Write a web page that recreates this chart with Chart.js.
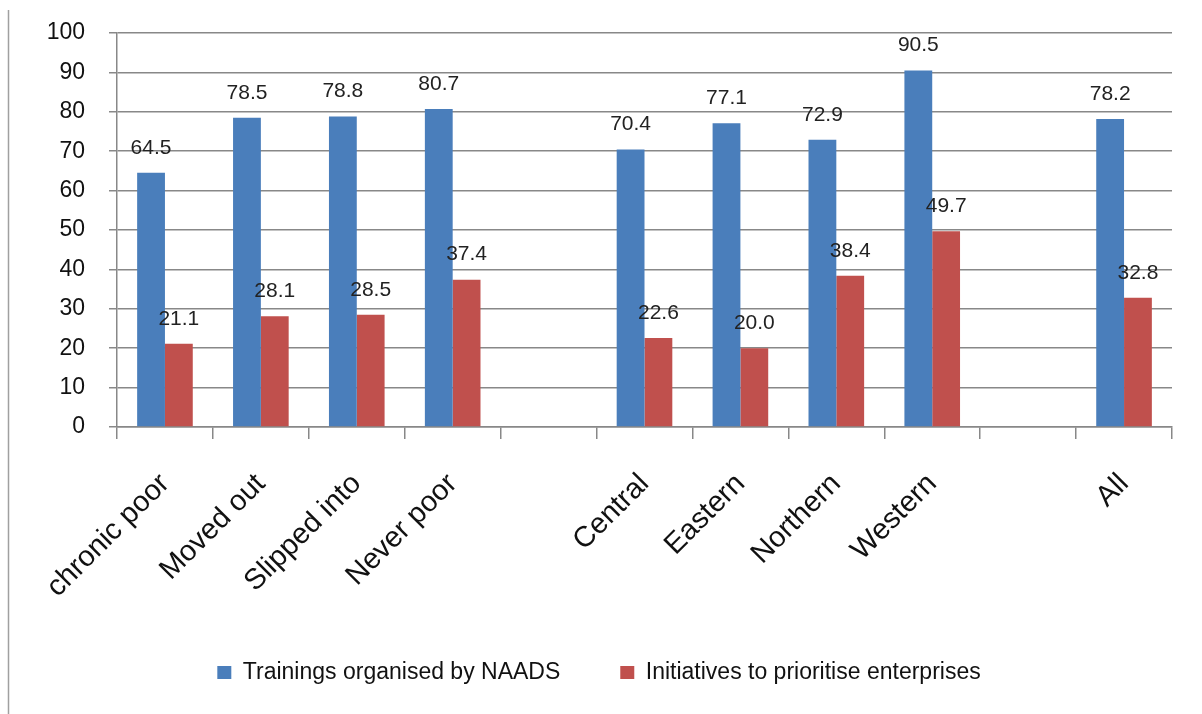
<!DOCTYPE html>
<html>
<head>
<meta charset="utf-8">
<script src="https://cdn.jsdelivr.net/npm/chart.js@4.4.1/dist/chart.umd.min.js"></script>
<style>
  html, body { margin: 0; padding: 0; background: #fff; }
  #wrap { width: 1202px; height: 714px; position: relative; }
</style>
</head>
<body>
<div id="wrap"><canvas id="myChart" width="1202" height="714"></canvas></div>
<script>
// categories (blank ones are the gaps between groups)
const categories = ['chronic poor', 'Moved out', 'Slipped into', 'Never poor', '',
                    'Central', 'Eastern', 'Northern', 'Western', '', 'All'];

const trainings  = [64.5, 78.5, 78.8, 80.7, null, 70.4, 77.1, 72.9, 90.5, null, 78.2];
const initiatives = [21.1, 28.1, 28.5, 37.4, null, 22.6, 20.0, 38.4, 49.7, null, 32.8];

const seriesNames = ['Trainings organised by NAADS', 'Initiatives to prioritise enterprises'];
const yTicks = [0, 10, 20, 30, 40, 50, 60, 70, 80, 90, 100];

const FONT = "'Liberation Sans', Arial, sans-serif";

// value labels above each bar
const valueLabels = {
  id: 'valueLabels',
  afterDatasetsDraw(chart) {
    const ctx = chart.ctx;
    ctx.save();
    ctx.font = '21px ' + FONT;
    ctx.fillStyle = '#222';
    ctx.textAlign = 'center';
    ctx.textBaseline = 'middle';
    chart.data.datasets.forEach((ds, i) => {
      chart.getDatasetMeta(i).data.forEach((bar, j) => {
        if (ds.data[j] == null) return;
        ctx.fillText(ds.data[j].toFixed(1), bar.x, bar.y - 25);
      });
    });
    ctx.restore();
  }
};

// thin frame line on the left side + nudge legend to the right
const leftFrame = {
  id: 'leftFrame',
  afterLayout(chart) {
    chart.legend.left += 13;
    chart.legend.right += 13;
  },
  afterDraw(chart) {
    const ctx = chart.ctx;
    ctx.save();
    ctx.strokeStyle = '#a0a0a0';
    ctx.lineWidth = 1.5;
    ctx.beginPath();
    ctx.moveTo(8.5, 10);
    ctx.lineTo(8.5, 714);
    ctx.stroke();
    ctx.restore();
  }
};

const ctx = document.getElementById('myChart').getContext('2d');
const myChart = new Chart(ctx, {
  type: 'bar',
  data: {
    labels: categories,
    datasets: [{
      label: seriesNames[0],
      data: trainings,
      backgroundColor: '#4a7ebb',
      borderWidth: 0
    }, {
      label: seriesNames[1],
      data: initiatives,
      backgroundColor: '#c0504d',
      borderWidth: 0
    }]
  },
  options: {
    responsive: false,
    animation: false,
    layout: { padding: { left: 0, right: 30, top: 33, bottom: 20 } },
    datasets: {
      bar: { categoryPercentage: 0.58, barPercentage: 1.0 }
    },
    plugins: {
      legend: {
        position: 'bottom',
        labels: {
          font: { family: FONT, size: 23 },
          color: '#111',
          boxWidth: 14,
          boxHeight: 13,
          padding: 60
        }
      },
      tooltip: { enabled: false }
    },
    scales: {
      x: {
        grid: {
          drawOnChartArea: false,
          drawTicks: true,
          tickLength: 12,
          color: '#888',
          lineWidth: 1.5
        },
        border: { color: '#888', width: 1.5 },
        ticks: {
          font: { family: FONT, size: 29 },
          color: '#111',
          minRotation: 45,
          maxRotation: 45,
          autoSkip: false,
          padding: 28
        },
        afterFit(scale) { scale.height = 174; scale.paddingTop = 0; }
      },
      y: {
        min: 0,
        max: 100,
        afterBuildTicks(scale) { scale.ticks = yTicks.map(v => ({ value: v })); },
        grid: { color: '#888', lineWidth: 1.5, tickLength: 8 },
        border: { color: '#888', width: 1.5 },
        ticks: {
          font: { family: FONT, size: 23 },
          color: '#111',
          padding: 24
        },
        afterFit(scale) { scale.width = 117; scale.paddingTop = 0; scale.paddingBottom = 0; }
      }
    }
  },
  plugins: [valueLabels, leftFrame]
});
</script>
</body>
</html>
